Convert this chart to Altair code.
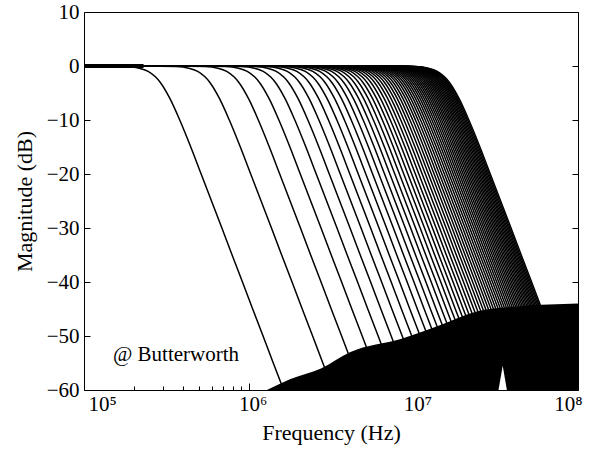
import altair as alt
import pandas as pd

CUTOFF_MHZ = [0.29, 0.58, 0.87, 1.16, 1.45, 1.74, 2.03, 2.32, 2.61, 2.90,
              3.19, 3.48, 3.77, 4.06, 4.35, 4.64, 4.93, 5.22, 5.51, 5.80,
              6.09, 6.38, 6.67, 6.96, 7.25, 7.54, 7.83, 8.12, 8.41, 8.70,
              8.99, 9.28, 9.57, 9.86, 10.15, 10.44, 10.73, 11.02, 11.31, 11.60,
              11.89, 12.18, 12.47, 12.76, 13.05, 13.34, 13.63, 13.92, 14.21, 14.50,
              14.79, 15.08, 15.37, 15.66, 15.95, 16.24, 16.53]

# Shape of one response: offset from cutoff in decades, magnitude dB
SHAPE_OFFSET_DEC = [-3.0, -0.40, -0.204, -0.127, -0.073, -0.029, 0.0, 0.059, 0.119,
                    0.186, 0.249, 0.312, 0.375, 0.437, 0.500, 0.562, 0.625, 0.687, 0.750, 0.875]
SHAPE_DB = [0.0, 0.0, -0.1, -0.4, -1.0, -2.0, -3.0, -6.0, -10.0,
            -15.0, -20.0, -25.0, -30.0, -35.0, -40.0, -45.0, -50.0, -55.0, -60.0, -70.0]

# Upper edge of the measurement noise floor
NOISE_FREQ = [1.29e6, 1.78e6, 2.75e6, 4.12e6, 8.5e6, 1.45e7, 2.4e7, 4.44e7, 1.0e8]
NOISE_TOP_DB = [-60.0, -58.0, -56.0, -53.0, -50.5, -48.0, -45.5, -44.5, -44.0]

# White gap in the noise floor
GAP_FREQ = [3.29e7, 3.49e7, 3.70e7]
GAP_TOP_DB = [-60.0, -55.5, -60.0]

# Thick passband trace at the low-frequency end
PASS_FREQ = [1.0e5, 2.3e5]
PASS_DB = [0.0, 0.0]

# Annotation
NOTE_FREQ = [1.5e5]
NOTE_DB = [-53.5]
NOTE_TEXT = ["@ Butterworth"]

X_MAJOR = [1e5, 1e6, 1e7, 1e8]
X_MINOR = [m * d for d in (1e5, 1e6, 1e7) for m in range(2, 10)]
Y_TICKS = [-60, -50, -40, -30, -20, -10, 0, 10]

rows = []
for i, fc in enumerate(CUTOFF_MHZ):
    for off, db in zip(SHAPE_OFFSET_DEC, SHAPE_DB):
        rows.append({"curve": i, "freq": fc * 1e6 * (10 ** off), "db": db})
curves_df = pd.DataFrame(rows)
noise_df = pd.DataFrame({"freq": NOISE_FREQ, "top": NOISE_TOP_DB})
gap_df = pd.DataFrame({"freq": GAP_FREQ, "top": GAP_TOP_DB})
pass_df = pd.DataFrame({"freq": PASS_FREQ, "db": PASS_DB})
note_df = pd.DataFrame({"freq": NOTE_FREQ, "db": NOTE_DB, "text": NOTE_TEXT})

FONT = "Liberation Serif"
xscale = alt.Scale(type="log", domain=[1e5, 1e8], nice=False)
yscale = alt.Scale(domain=[-60, 10], nice=False)

x_major_axis = alt.Axis(values=X_MAJOR, orient="bottom",
                        labelExpr="'10' + ['\u2075','\u2076','\u2077','\u2078'][round(log(datum.value)/LN10) - 5]",
                        tickSize=7, offset=-7, domain=False, grid=False,
                        labelPadding=3, labelFont=FONT, labelFontSize=21, labelColor="black",
                        labelOffset=4, tickColor="black", tickWidth=1,
                        title="Frequency (Hz)", titleFont=FONT, titleFontSize=22,
                        titleFontWeight="normal", titleColor="black", titlePadding=8)
y_left_axis = alt.Axis(values=Y_TICKS, orient="left",
                       tickSize=6, offset=-6, domain=False, grid=False,
                       labelPadding=5, labelFont=FONT, labelFontSize=21, labelColor="black",
                       tickColor="black", tickWidth=1,
                       title="Magnitude (dB)", titleFont=FONT, titleFontSize=22,
                       titleFontWeight="normal", titleColor="black", titlePadding=10)
x_minor_axis = alt.Axis(values=X_MINOR, orient="bottom", labels=False, tickSize=4, offset=-4,
                        domain=False, grid=False, tickColor="black", tickWidth=1, title="")
y_right_axis = alt.Axis(values=Y_TICKS, orient="right", labels=False, tickSize=6, offset=-6,
                        domain=False, grid=False, tickColor="black", tickWidth=1, title="")

curves = alt.Chart(curves_df).mark_line(color="black", strokeWidth=1.5, clip=True,
                                        interpolate="monotone").encode(
    x=alt.X("freq:Q", scale=xscale, axis=x_major_axis),
    y=alt.Y("db:Q", scale=yscale, axis=y_left_axis),
    detail="curve:N",
)

noise = alt.Chart(noise_df).mark_area(color="black", clip=True, interpolate="monotone").encode(
    x=alt.X("freq:Q", scale=xscale, axis=x_minor_axis),
    y=alt.Y("top:Q", scale=yscale, axis=y_right_axis),
    y2=alt.datum(-60),
)

gap = alt.Chart(gap_df).mark_area(color="white", clip=True).encode(
    x=alt.X("freq:Q", scale=xscale, axis=None),
    y=alt.Y("top:Q", scale=yscale, axis=None),
    y2=alt.datum(-60),
)

passband = alt.Chart(pass_df).mark_line(color="black", strokeWidth=4, clip=True).encode(
    x=alt.X("freq:Q", scale=xscale, axis=None),
    y=alt.Y("db:Q", scale=yscale, axis=None),
)

note = alt.Chart(note_df).mark_text(font=FONT, fontSize=21, align="left",
                                    baseline="middle", color="black").encode(
    x=alt.X("freq:Q", scale=xscale, axis=None),
    y=alt.Y("db:Q", scale=yscale, axis=None),
    text="text:N",
)

chart = alt.layer(curves, noise, gap, passband, note).resolve_axis(
    x="independent", y="independent"
).properties(
    width=494, height=378,
    autosize=alt.AutoSizeParams(type="none"),
    padding={"left": 84, "top": 12, "right": 21, "bottom": 64},
    background="white",
).configure_view(stroke="black", strokeWidth=1)

chart.save("out.html", embed_options={"renderer": "svg", "actions": False})
